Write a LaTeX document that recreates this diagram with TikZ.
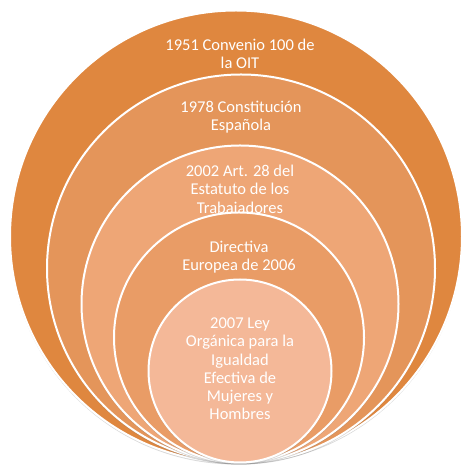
\documentclass[tikz,border=0pt]{standalone}
\usepackage{fontspec}
\setmainfont{Carlito}
\usetikzlibrary{shadows}
\definecolor{ringA}{HTML}{DF873F}
\definecolor{ringB}{HTML}{E4955A}
\definecolor{ringC}{HTML}{EEA676}
\definecolor{ringD}{HTML}{E99C66}
\definecolor{ringE}{HTML}{F4B898}
\begin{document}
\begin{tikzpicture}[x=1pt,y=1pt,
	ring/.style={circle,draw=white,line width=2pt,inner sep=0pt,outer sep=0pt,
		drop shadow={shadow xshift=0pt,shadow yshift=-2pt,opacity=0.3}},
	lbl/.style={text=white,align=center,font=\fontsize{16.5}{18.2}\selectfont}]
	\useasboundingbox (0,0) rectangle (466,465);
	
	\node[ring,fill=ringA,minimum size=452pt] (r1) at (236,228.5) {};
	\node[lbl] (t1) at ([xshift=4pt,yshift=-43pt]r1.north) {1951 Convenio 100 de\\la OIT};
	
	\node[ring,fill=ringB,minimum size=388pt] (r2) at (241,196.5) {};
	\node[lbl] (t2) at ([yshift=-43pt]r2.north) {1978 Constitución\\Española};
	
	\node[ring,fill=ringC,minimum size=317pt] (r3) at (240,161) {};
	\node[lbl] (t3) at ([yshift=-45pt]r3.north) {2002 Art. 28 del\\Estatuto de los\\Trabajadores};
	
	\node[ring,fill=ringD,minimum size=250pt] (r4) at (239,127.5) {};
	\node[lbl] (t4) at ([yshift=-45pt]r4.north) {Directiva\\Europea de 2006};
	
	\node[ring,fill=ringE,minimum size=183pt] (r5) at (240,94) {};
	\node[lbl] (t5) at ([yshift=2pt]r5.center) {2007 Ley\\Orgánica para la\\Igualdad\\Efectiva de\\Mujeres y\\Hombres};
\end{tikzpicture}
\end{document}
